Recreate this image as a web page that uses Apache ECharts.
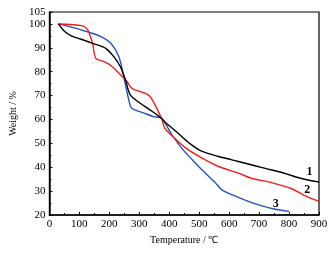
<!DOCTYPE html>
<html>
<head>
<meta charset="utf-8">
<script src="https://cdn.jsdelivr.net/npm/echarts@6/dist/echarts.min.js"></script>
<style>
    html, body { margin: 0; padding: 0; background: #fff; }
    #tga { width: 333px; height: 254px; }
</style>
</head>
<body>
<div id="tga"></div>
<script>
    // curve 1 (black)
    let curve1 = [
        [30, 100], [51, 96.8], [73, 95], [106, 93.6], [144, 91.9], [188, 89.8], [215, 86.3],
        [237, 82.1], [254, 76.6], [270, 70.3], [303, 66.8], [336, 64], [374, 60.5], [390, 58.4],
        [423, 55], [467, 50.1], [510, 46.6], [565, 44.5], [609, 43.1], [631, 42.4], [696, 40.3],
        [718, 39.6], [784, 37.5], [838, 35.4], [900, 33.8]
    ];
    // curve 2 (red)
    let curve2 = [
        [30, 100], [111, 99.2], [128, 97.5], [144, 91.9], [155, 85.6], [183, 84.2], [210, 82.1],
        [237, 78.7], [259, 75.9], [275, 73.1], [303, 71.7], [330, 70.3], [347, 67.5], [374, 60.5],
        [385, 56.4], [412, 52.9], [456, 48], [510, 43.8], [565, 40.3], [631, 37.5], [674, 35.4],
        [740, 33.6], [805, 31.2], [860, 27.7], [900, 25.7]
    ];
    // curve 3 (blue)
    let curve3 = [
        [30, 100], [106, 97.5], [172, 94.7], [205, 91.9], [232, 86.3], [248, 78], [265, 68.2],
        [275, 64.7], [314, 62.8], [347, 61.2], [374, 60.5], [412, 53], [445, 47.5], [478, 43],
        [510, 38.8], [554, 33.5], [576, 30.5], [609, 28.5], [664, 25.7], [707, 23.9], [750, 22.5],
        [800, 21.5]
    ];
    let curveNames = ['1', '2', '3'];
    let curveColors = ['#000000', '#f0201c', '#2352c2'];
    // where the number tags sit, in data units
    let tagPos = [[868, 38.1], [861, 30.5], [756, 24.7]];

    let serif = 'Liberation Serif';
    let chart = echarts.init(document.getElementById('tga'));

    let makeSeries = function (data, i) {
        return {
            name: curveNames[i],
            type: 'line',
            data: data,
            smooth: 0.3,
            showSymbol: false,
            lineStyle: {color: curveColors[i], width: 1.4},
            itemStyle: {color: curveColors[i]},
            markPoint: {
                symbol: 'circle',
                symbolSize: 1,
                itemStyle: {color: 'rgba(0,0,0,0)'},
                label: {
                    show: true,
                    position: 'inside',
                    formatter: curveNames[i],
                    color: '#000',
                    fontFamily: serif,
                    fontWeight: 'bold',
                    fontSize: 12
                },
                data: [{coord: tagPos[i]}]
            }
        };
    };

    let option = {
        animation: false,
        textStyle: {fontFamily: serif},
        grid: {
            left: 44, right: 14, top: 12, bottom: 39,
            show: true,
            borderColor: '#000',
            borderWidth: 1.2
        },
        xAxis: {
            type: 'value',
            min: 0, max: 900, interval: 100,
            name: 'Temperature / ℃',
            nameLocation: 'middle',
            nameGap: 19,
            nameTextStyle: {fontFamily: serif, fontSize: 10, color: '#000'},
            axisLine: {lineStyle: {color: '#000', width: 1.5}},
            axisTick: {inside: true, length: 3, lineStyle: {color: '#000'}},
            minorTick: {show: true, splitNumber: 2, length: 2, lineStyle: {color: '#000'}},
            axisLabel: {margin: 4, fontFamily: serif, fontSize: 11, color: '#000'},
            splitLine: {show: false}
        },
        yAxis: {
            type: 'value',
            min: 20, max: 105, interval: 10,
            name: 'Weight / %',
            nameLocation: 'middle',
            nameGap: 26,
            nameTextStyle: {fontFamily: serif, fontSize: 10, color: '#000'},
            axisLine: {lineStyle: {color: '#000', width: 1.5}},
            axisTick: {inside: true, length: 3, lineStyle: {color: '#000'}},
            minorTick: {show: true, splitNumber: 2, length: 2, lineStyle: {color: '#000'}},
            axisLabel: {margin: 4, fontFamily: serif, fontSize: 11, color: '#000'},
            splitLine: {show: false}
        },
        series: [curve3, curve2, curve1].map((d, k) => makeSeries(d, 2 - k))
    };
    chart.setOption(option);
</script>
</body>
</html>
